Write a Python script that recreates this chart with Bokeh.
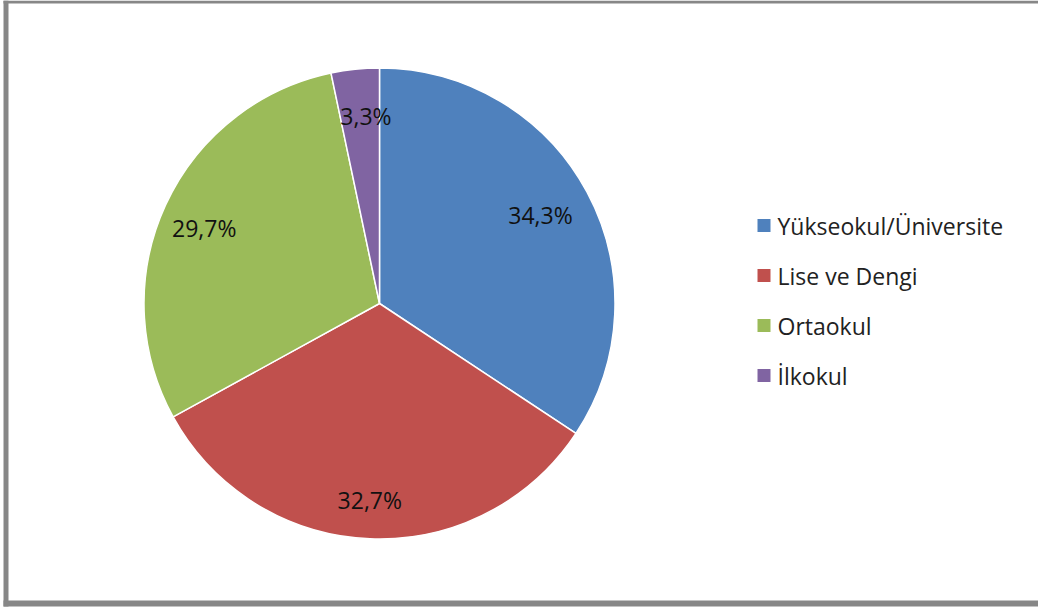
import math
import numpy as np
from bokeh.plotting import figure
from bokeh.models import Range1d
from bokeh.core.properties import value
from bokeh.embed import file_html
from bokeh.resources import INLINE

# ---- data ----
categories = ["Yükseokul/Üniversite", "Lise ve Dengi", "Ortaokul", "İlkokul"]
percents = [34.3, 32.7, 29.7, 3.3]
labels = ["34,3%", "32,7%", "29,7%", "3,3%"]
colors = ["#4F81BD", "#C0504D", "#9BBB59", "#8064A2"]

# ---- layout (picture pixel coordinates) ----
W, H = 1038, 608
def Y(py):
    return H - py

# small per-label nudges (screen px) to mimic the original label placement
label_dx = [-5, -2, -4, 6]
label_dy = [1, 8, 3, 0]

p = figure(width=W, height=H, output_backend="svg", toolbar_location=None,
           x_range=Range1d(0, W), y_range=Range1d(0, H), min_border=0)
p.axis.visible = False
p.grid.visible = False
p.outline_line_color = None
p.background_fill_color = "white"
p.border_fill_color = "white"

# frame border
border = "#878787"
p.quad(left=[3, 3, 3], right=[8, W, W], bottom=[Y(606), Y(3), Y(606)],
       top=[Y(0), Y(0), Y(600)], fill_color=border, line_color=None)

# pie
cx, cy, r = 379, Y(303), 235.5
fr = np.array(percents) / sum(percents)
cum = np.concatenate([[0], np.cumsum(fr)])
start = math.pi / 2 - 2 * math.pi * cum[:-1]
end = math.pi / 2 - 2 * math.pi * cum[1:]
p.wedge(x=cx, y=cy, radius=r, radius_units="screen",
        start_angle=list(start), end_angle=list(end), direction="clock",
        fill_color=colors, line_color="white", line_width=1.5)

mid = (start + end) / 2
lr = 0.8 * r
lx = cx + lr * np.cos(mid)
ly = cy + lr * np.sin(mid)
p.text(x=list(lx), y=list(ly), text=labels, x_offset=label_dx, y_offset=label_dy,
       text_align="center", text_baseline="middle",
       text_font=value("Open Sans"), text_font_size="23px", text_color="#111111")

# legend
leg_y = [Y(225 + 50 * i) for i in range(len(categories))]
p.rect(x=[763.5] * len(categories), y=leg_y, width=13, height=13,
       width_units="screen", height_units="screen",
       fill_color=colors, line_color=None)
p.text(x=[777] * len(categories), y=leg_y, text=categories, text_align="left",
       text_baseline="middle", text_font=value("Open Sans"), text_font_size="23px",
       text_color="#222222")

open("out.html", "w").write(file_html(p, INLINE))
